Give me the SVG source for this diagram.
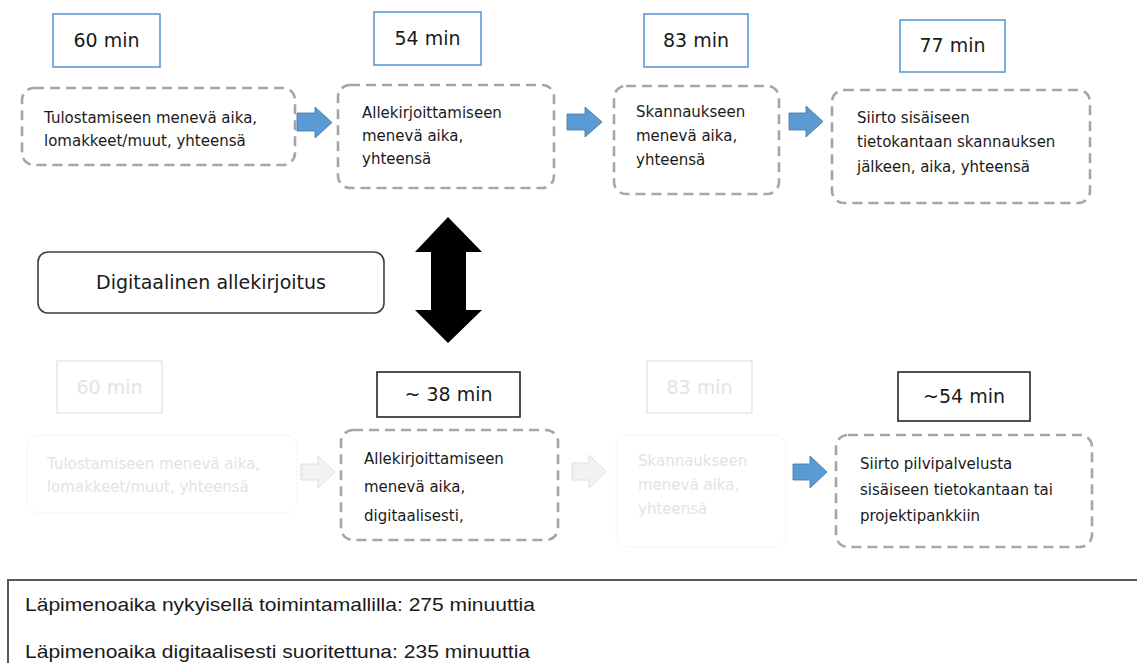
<svg xmlns="http://www.w3.org/2000/svg" width="1137" height="663" viewBox="0 0 1137 663">
  <style>
    .bg { fill: #ffffff; }
    .time { fill: #ffffff; stroke: #5b9bd5; stroke-width: 1.6; }
    .time-new { fill: #ffffff; stroke: #262626; stroke-width: 1.6; }
    .time-off { fill: #ffffff; stroke: #e6e6e6; stroke-width: 1.4; }
    .step { fill: #ffffff; stroke: #a6a6a6; stroke-width: 2.6; stroke-dasharray: 10 6; }
    .step-off { fill: #ffffff; stroke: #ececec; stroke-width: 1; stroke-dasharray: 2 2; }
    .flow { fill: #5b9bd5; stroke: #41719c; stroke-width: 0.8; }
    .flow-off { fill: #f2f2f2; stroke: #dedede; stroke-width: 1; }
    .label { font-family: "DejaVu Sans", Verdana, sans-serif; font-size: 15px; fill: #1a1a1a; }
    .label-off { font-family: "DejaVu Sans", Verdana, sans-serif; font-size: 15px; fill: #e3e3e3; }
    .num { font-family: "DejaVu Sans", Verdana, sans-serif; font-size: 19px; fill: #1a1a1a; text-anchor: middle; }
    .num-off { font-family: "DejaVu Sans", Verdana, sans-serif; font-size: 19px; fill: #e3e3e3; text-anchor: middle; }
    .summary { font-family: "Liberation Sans", Arial, sans-serif; font-size: 19px; fill: #1a1a1a; }
  </style>

  <rect class="bg" x="0" y="0" width="1137" height="663"/>

  <!-- current process: time boxes -->
  <g id="time-print">
    <rect class="time" x="53" y="14" width="107" height="53"/>
    <text class="num" x="106.5" y="47">60 min</text>
  </g>
  <g id="time-sign">
    <rect class="time" x="374" y="12" width="107" height="53"/>
    <text class="num" x="427.5" y="45">54 min</text>
  </g>
  <g id="time-scan">
    <rect class="time" x="644" y="14" width="104" height="53"/>
    <text class="num" x="696" y="47">83 min</text>
  </g>
  <g id="time-transfer">
    <rect class="time" x="900" y="20" width="105" height="52"/>
    <text class="num" x="952.5" y="52">77 min</text>
  </g>

  <!-- current process: steps -->
  <g id="step-print">
    <rect class="step" x="22" y="88" width="273" height="77" rx="12"/>
    <text class="label" x="44" y="123">Tulostamiseen menevä aika,</text>
    <text class="label" x="44" y="146">lomakkeet/muut, yhteensä</text>
  </g>
  <g id="step-sign">
    <rect class="step" x="338" y="85" width="216" height="103" rx="12"/>
    <text class="label" x="362" y="118">Allekirjoittamiseen</text>
    <text class="label" x="362" y="141">menevä aika,</text>
    <text class="label" x="362" y="164">yhteensä</text>
  </g>
  <g id="step-scan">
    <rect class="step" x="614" y="86" width="165" height="108" rx="12"/>
    <text class="label" x="636" y="117">Skannaukseen</text>
    <text class="label" x="636" y="141">menevä aika,</text>
    <text class="label" x="636" y="165">yhteensä</text>
  </g>
  <g id="step-transfer">
    <rect class="step" x="832" y="90" width="258" height="113" rx="12"/>
    <text class="label" x="857" y="123">Siirto sisäiseen</text>
    <text class="label" x="857" y="147">tietokantaan skannauksen</text>
    <text class="label" x="857" y="172">jälkeen, aika, yhteensä</text>
  </g>

  <!-- digital signature label and switch arrow -->
  <g id="digital-signature">
    <rect x="38" y="252" width="346" height="61" rx="10" fill="#ffffff" stroke="#404040" stroke-width="1.6"/>
    <text x="211" y="289" font-family="DejaVu Sans, Verdana, sans-serif" font-size="19" fill="#1a1a1a" text-anchor="middle">Digitaalinen allekirjoitus</text>
  </g>
  <g id="switch-arrow">
    <polygon points="448,217 482,252 466,252 466,310 482,310 448,343 415,310 431,310 431,252 415,252" fill="#000000"/>
  </g>

  <!-- digital process: time boxes -->
  <g id="time-print-off">
    <rect class="time-off" x="57" y="361" width="105" height="52"/>
    <text class="num-off" x="109.5" y="394">60 min</text>
  </g>
  <g id="time-sign-digital">
    <rect class="time-new" x="377" y="372" width="143" height="45"/>
    <text class="num" x="448.5" y="401">~ 38 min</text>
  </g>
  <g id="time-scan-off">
    <rect class="time-off" x="647" y="361" width="105" height="52"/>
    <text class="num-off" x="699.5" y="394">83 min</text>
  </g>
  <g id="time-transfer-cloud">
    <rect class="time-new" x="898" y="372" width="132" height="49"/>
    <text class="num" x="964" y="403">~54 min</text>
  </g>

  <!-- digital process: steps -->
  <g id="step-print-off">
    <rect class="step-off" x="27" y="435" width="270" height="78" rx="12"/>
    <text class="label-off" x="47" y="469">Tulostamiseen menevä aika,</text>
    <text class="label-off" x="47" y="492">lomakkeet/muut, yhteensä</text>
  </g>
  <g id="step-sign-digital">
    <rect class="step" x="341" y="430" width="217" height="110" rx="12"/>
    <text class="label" x="364" y="464">Allekirjoittamiseen</text>
    <text class="label" x="364" y="492">menevä aika,</text>
    <text class="label" x="364" y="521">digitaalisesti,</text>
  </g>
  <g id="step-scan-off">
    <rect class="step-off" x="616" y="435" width="170" height="112" rx="12"/>
    <text class="label-off" x="638" y="466">Skannaukseen</text>
    <text class="label-off" x="638" y="490">menevä aika,</text>
    <text class="label-off" x="638" y="514">yhteensä</text>
  </g>
  <g id="step-transfer-cloud">
    <rect class="step" x="836" y="435" width="256" height="112" rx="12"/>
    <text class="label" x="860" y="469">Siirto pilvipalvelusta</text>
    <text class="label" x="860" y="495">sisäiseen tietokantaan tai</text>
    <text class="label" x="860" y="521">projektipankkiin</text>
  </g>

  <!-- connectors between steps -->
  <g id="connectors">
    <polygon class="flow" points="297,113 315,113 315,107 332,122.5 315,138 315,131 297,131"/>
    <polygon class="flow" points="567,114 585,114 585,107 602,122 585,137 585,130 567,130"/>
    <polygon class="flow" points="789,113 806,113 806,106 823,121.5 806,137 806,130 789,130"/>
    <polygon class="flow-off" points="301,464 318,464 318,456 335,472 318,488 318,480 301,480"/>
    <polygon class="flow-off" points="572,463 589,463 589,455 606,471.5 589,488 589,480 572,480"/>
    <polygon class="flow" points="793,464 810,464 810,456 827,472 810,488 810,480 793,480"/>
  </g>

  <!-- lead time summary -->
  <g id="summary">
    <rect x="8" y="580" width="1140" height="110" fill="#ffffff" stroke="#595959" stroke-width="2"/>
    <text class="summary" x="25" y="611" textLength="510" lengthAdjust="spacingAndGlyphs">Läpimenoaika nykyisellä toimintamallilla: 275 minuuttia</text>
    <text class="summary" x="25" y="658" textLength="505" lengthAdjust="spacingAndGlyphs">Läpimenoaika digitaalisesti suoritettuna: 235 minuuttia</text>
  </g>
</svg>
